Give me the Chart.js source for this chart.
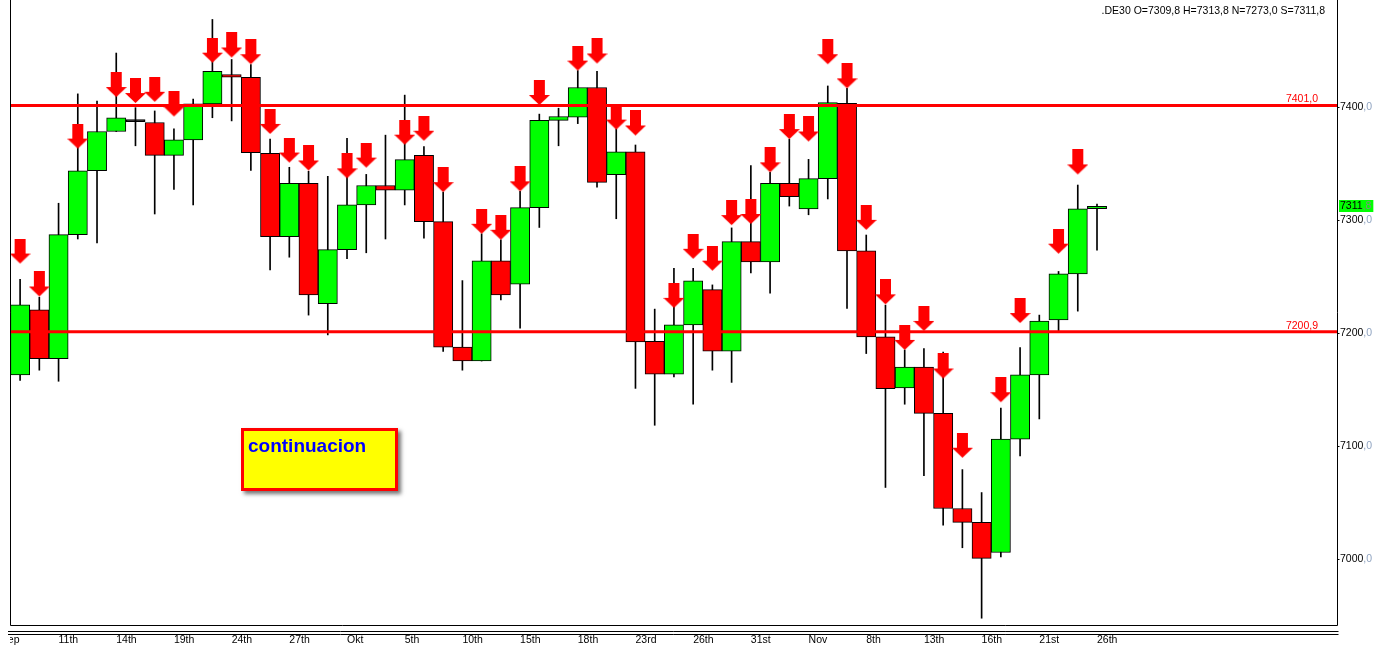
<!DOCTYPE html>
<html><head><meta charset="utf-8">
<script src="https://cdn.jsdelivr.net/npm/chart.js@4.4.0/dist/chart.umd.min.js"></script>
<style>html,body{margin:0;padding:0;background:#fff;overflow:hidden}#wrap{position:relative;width:1377px;height:649px}</style>
</head><body><div id="wrap"><canvas id="c"></canvas></div>
<script>
const opens  = [7162.7,7220.2,7177.0,7286.8,7343.2,7377.9,7386.6,7385.9,7356.8,7370.5,7402.4,7428.3,7425.9,7358.6,7285.0,7332.0,7225.8,7273.5,7313.0,7330.2,7326.0,7356.8,7298.3,7187.3,7175.0,7263.6,7243.0,7310.6,7387.7,7390.5,7416.8,7339.7,7360.0,7192.5,7163.4,7206.9,7238.1,7183.8,7280.5,7262.6,7332.0,7309.5,7336.2,7402.8,7272.4,7196.4,7151.2,7169.7,7128.7,7044.6,7032.4,7005.7,7106.0,7162.7,7211.4,7252.1,7309.8];
const highs  = [7247.2,7231.4,7314.5,7411.2,7404.9,7447.3,7399.0,7396.1,7380.3,7406.6,7477.0,7441.6,7437.1,7371.2,7346.3,7342.8,7338.3,7371.9,7340.0,7374.7,7410.1,7364.6,7324.3,7246.1,7287.5,7282.2,7325.0,7393.3,7398.5,7431.8,7431.1,7380.3,7366.0,7220.9,7257.0,7257.0,7242.3,7292.7,7347.7,7341.8,7371.2,7353.3,7418.2,7416.1,7286.4,7224.4,7184.8,7185.9,7183.0,7079.0,7058.7,7133.3,7186.9,7215.6,7254.2,7330.6,7313.8];
const lows   = [7157.8,7166.9,7157.1,7282.9,7279.4,7377.9,7365.3,7305.0,7326.7,7313.0,7390.1,7387.3,7343.5,7255.6,7266.8,7215.6,7198.1,7265.4,7270.7,7282.9,7313.0,7283.6,7183.4,7166.9,7175.0,7229.0,7204.1,7293.1,7365.3,7384.9,7328.8,7300.8,7150.8,7118.2,7161.0,7136.8,7166.9,7156.1,7252.8,7234.9,7312.0,7304.3,7318.3,7221.6,7181.6,7063.2,7136.8,7073.7,7029.9,7009.9,6947.6,7001.9,7091.2,7123.8,7201.6,7219.1,7273.0];
const closes = [7224.7,7177.1,7286.8,7343.2,7377.9,7390.1,7386.6,7356.8,7370.5,7402.4,7431.1,7425.9,7359.3,7285.0,7332.0,7233.5,7273.5,7313.0,7330.2,7326.0,7353.0,7298.3,7187.3,7175.0,7263.6,7233.5,7310.6,7387.7,7391.2,7416.8,7333.0,7360.0,7191.8,7163.4,7206.9,7245.8,7183.8,7280.5,7262.6,7332.0,7320.4,7336.2,7403.5,7272.4,7196.4,7150.5,7169.7,7128.7,7044.6,7032.4,7000.5,7106.0,7162.7,7210.4,7252.1,7309.5,7311.8];
const arrowTips = [7261.2,7232.1,null,7362.8,null,7408.4,7403.1,7404.2,7391.2,null,7438.8,7443.4,7437.4,7375.8,7350.5,7343.5,null,7336.5,7346.0,null,7366.3,7369.8,7324.3,null,7287.5,7282.2,7325.0,7401.4,null,7431.8,7438.1,7379.6,7374.4,null,7222.0,7265.4,7254.9,7295.2,7296.2,7341.8,7371.2,7369.1,7437.4,7416.1,7291.0,7225.1,7184.8,7201.6,7159.6,7089.5,null,7138.6,7208.6,null,7269.9,7340.0,null];
const levels = [7401.0, 7200.9];
const levelLabels = ['7401,0', '7200,9'];
const yTicks = [7000, 7100, 7200, 7300, 7400];
const xLabelIdx = [-1, 2, 5, 8, 11, 14, 17, 20, 23, 26, 29, 32, 35, 38, 41, 44, 47, 50, 53, 56];
const xLabelText = ['Sep','11th','14th','19th','24th','27th','Okt','5th','10th','15th','18th','23rd','26th','31st','Nov','8th','13th','16th','21st','26th'];
const headerText = '.DE30 O=7309,8 H=7313,8 N=7273,0 S=7311,8';
const lastPrice = 7311.8;
const noteText = 'continuacion';

const X_MIN = -0.525, X_MAX = 68.48, Y_MIN = 6941.6, Y_MAX = 7494.2;
const GREEN = '#00FF00', RED = '#FF0000';
const FONT = "10.5px 'Liberation Sans', Arial, sans-serif";

const idx = opens.map((_, i) => i);
const bodyData = idx.map(i => ({x: i, y: [opens[i], closes[i]]}));
const wickData = idx.map(i => ({x: i, y: [lows[i], highs[i]]}));
const bodyColors = idx.map(i => closes[i] > opens[i] ? GREEN : (closes[i] < opens[i] ? RED : '#000'));
const arrowData = idx.filter(i => arrowTips[i] !== null).map(i => ({x: i, y: arrowTips[i]}));

function makeArrow() {
  const c = document.createElement('canvas'); c.width = 21; c.height = 50;
  const g = c.getContext('2d'); g.fillStyle = RED;
  g.fillRect(5, 0, 11, 15);
  g.beginPath(); g.moveTo(0, 15); g.lineTo(21, 15); g.lineTo(10.5, 25); g.closePath(); g.fill();
  return c;
}
const arrowImg = makeArrow();

function splitNum(v, dec) {
  const s = v.toFixed(dec).split('.');
  return [s[0], ',' + s[1]];
}

const deco = {
  id: 'deco',
  beforeDraw(chart) {
    const ctx = chart.ctx; ctx.save(); ctx.fillStyle = '#fff'; ctx.fillRect(0, 0, chart.width, chart.height); ctx.restore();
  },
  afterDraw(chart) {
    const {ctx, chartArea: a, scales: {x, y}} = chart;
    const L = Math.round(a.left) + 0.5, R = Math.round(a.right) + 0.5, B = Math.round(a.bottom) + 0.5;
    ctx.save();
    ctx.strokeStyle = '#000'; ctx.lineWidth = 1;
    ctx.beginPath();
    ctx.moveTo(L, 0); ctx.lineTo(L, B); ctx.lineTo(R, B); ctx.lineTo(R, 0);
    ctx.moveTo(8, B + 6); ctx.lineTo(R + 1, B + 6);
    ctx.moveTo(8, B + 9); ctx.lineTo(R + 1, B + 9);
    ctx.stroke();

    ctx.font = FONT; ctx.textBaseline = 'middle'; ctx.textAlign = 'left';
    yTicks.forEach(v => {
      const py = Math.round(y.getPixelForValue(v)) + 0.5;
      ctx.beginPath(); ctx.moveTo(R, py); ctx.lineTo(R + 2, py); ctx.stroke();
      const [a1, a2] = splitNum(v, 1);
      ctx.fillStyle = '#000'; ctx.fillText(a1, R + 2.5, py);
      const w = ctx.measureText(a1).width;
      ctx.fillStyle = '#8FA3C0'; ctx.fillText(a2, R + 2.5 + w, py);
    });

    {
      const py = y.getPixelForValue(lastPrice);
      const [a1, a2] = splitNum(lastPrice, 1);
      const w1 = ctx.measureText(a1).width, w2 = ctx.measureText(a2).width;
      ctx.fillStyle = GREEN; ctx.fillRect(R + 1.5, Math.round(py) - 6, w1 + w2 + 3, 12);
      ctx.fillStyle = '#000'; ctx.fillText(a1, R + 2.5, py);
      ctx.fillStyle = '#7F8F7F'; ctx.fillText(a2, R + 2.5 + w1, py);
    }

    ctx.fillStyle = RED; ctx.textAlign = 'right'; ctx.textBaseline = 'alphabetic';
    levels.forEach((v, k) => {
      const py = y.getPixelForValue(v);
      ctx.fillText(levelLabels[k], 1318, py - 3);
    });

    ctx.fillStyle = '#000'; ctx.textAlign = 'right'; ctx.textBaseline = 'alphabetic';
    ctx.fillText(headerText, 1325, 14);

    ctx.save();
    ctx.beginPath(); ctx.rect(a.left, B, a.right - a.left, chart.height - B); ctx.clip();
    ctx.fillStyle = '#000'; ctx.textAlign = 'left'; ctx.textBaseline = 'middle';
    xLabelIdx.forEach((i, k) => {
      ctx.fillText(xLabelText[k], x.getPixelForValue(i), 640);
    });
    ctx.restore();

    ctx.save();
    ctx.shadowColor = 'rgba(0,0,0,0.55)'; ctx.shadowBlur = 4; ctx.shadowOffsetX = 3; ctx.shadowOffsetY = 3;
    ctx.fillStyle = RED; ctx.fillRect(241, 428, 157, 63);
    ctx.restore();
    ctx.fillStyle = '#FFFF00'; ctx.fillRect(244, 431, 151, 57);
    ctx.fillStyle = '#0000FF'; ctx.font = "bold 19px 'Liberation Sans', Arial, sans-serif";
    ctx.textAlign = 'left'; ctx.textBaseline = 'alphabetic';
    ctx.fillText(noteText, 248, 452);
    ctx.restore();
  }
};

new Chart(document.getElementById('c'), {
  type: 'bar',
  data: {
    datasets: [
      {type: 'line', data: [{x: X_MIN, y: levels[0]}, {x: X_MAX, y: levels[0]}], borderColor: RED, borderWidth: 3, pointRadius: 0, order: -1},
      {type: 'line', data: [{x: X_MIN, y: levels[1]}, {x: X_MAX, y: levels[1]}], borderColor: RED, borderWidth: 3, pointRadius: 0, order: -1},
      {type: 'scatter', data: arrowData, pointStyle: arrowImg, pointRadius: 5, order: 0},
      {type: 'bar', data: bodyData, backgroundColor: bodyColors, borderColor: '#000', borderWidth: 1, borderSkipped: false,
        barPercentage: 1, categoryPercentage: 1, grouped: false, minBarLength: 2, order: 1},
      {type: 'bar', data: wickData, backgroundColor: '#000', borderWidth: 0, barThickness: 1, grouped: false, order: 2}
    ]
  },
  options: {
    responsive: true, maintainAspectRatio: false, animation: false, events: [],
    layout: {autoPadding: false, padding: {left: 10, right: 40, top: 0, bottom: 24}},
    plugins: {legend: {display: false}, tooltip: {enabled: false}},
    scales: {
      x: {type: 'linear', min: X_MIN, max: X_MAX, offset: false, display: false},
      y: {type: 'linear', min: Y_MIN, max: Y_MAX, beginAtZero: false, display: false}
    }
  },
  plugins: [deco]
});
</script></body></html>
